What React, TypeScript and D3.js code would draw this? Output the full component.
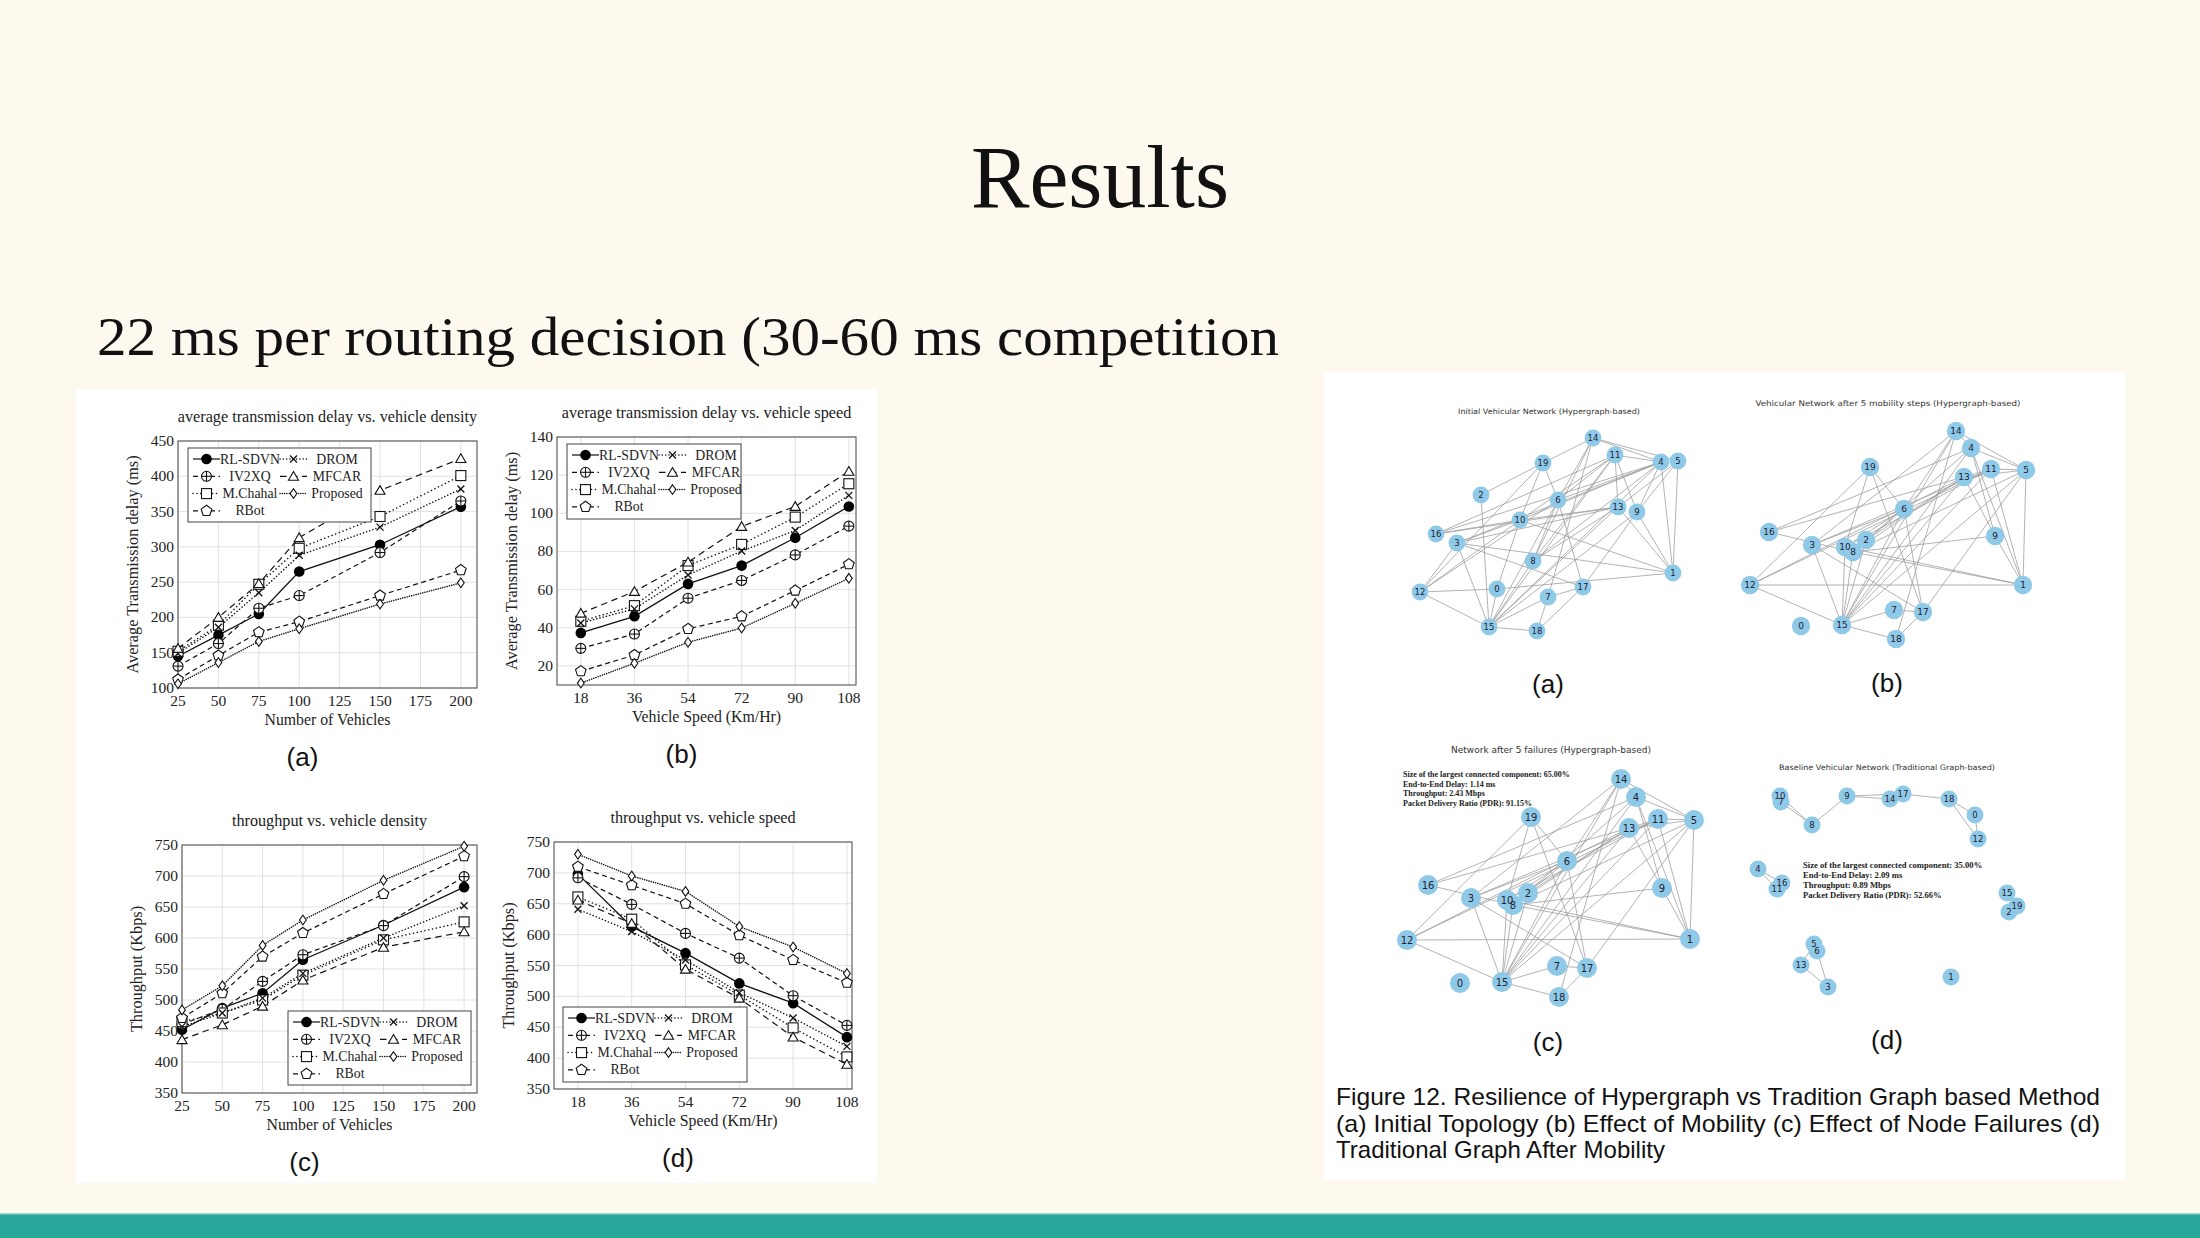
import React from "react";
import * as d3 from "d3";

// ---------- DATA ----------
const seriesNames = ["RL-SDVN", "IV2XQ", "M.Chahal", "RBot", "DROM", "MFCAR", "Proposed"];
const densityX = [25, 50, 75, 100, 150, 200];
const speedX = [18, 36, 54, 72, 90, 108];
const densityTicks = [25, 50, 75, 100, 125, 150, 175, 200];

const delayDensityRLSDVN = [145, 175, 205, 265, 303, 357];
const delayDensityIV2XQ = [131, 163, 213, 231, 292, 365];
const delayDensityMChahal = [152, 189, 247, 298, 343, 401];
const delayDensityRBot = [112, 146, 179, 194, 231, 267];
const delayDensityDROM = [149, 186, 235, 288, 328, 382];
const delayDensityMFCAR = [156, 200, 248, 313, 380, 425];
const delayDensityProposed = [106, 136, 166, 184, 219, 249];
const delayDensityTicks = [100, 150, 200, 250, 300, 350, 400, 450];

const delaySpeedRLSDVN = [37.3, 46, 63, 72.6, 87.2, 103.6];
const delaySpeedIV2XQ = [29.2, 36.7, 55.5, 64.8, 78.2, 93.3];
const delaySpeedMChahal = [43.4, 51.6, 72.6, 83.7, 98, 115.5];
const delaySpeedRBot = [17.2, 25.7, 39.4, 46, 59.5, 73.3];
const delaySpeedDROM = [42.5, 49.9, 67.7, 80.2, 91, 109.4];
const delaySpeedMFCAR = [47.6, 59, 74.4, 93.1, 103.6, 122];
const delaySpeedProposed = [11, 21.4, 32.4, 39.9, 52.8, 65.9];
const delaySpeedTicks = [20, 40, 60, 80, 100, 120, 140];

const thrDensityRLSDVN = [452, 487, 511, 565, 621, 682];
const thrDensityIV2XQ = [461, 485, 530, 573, 620, 699];
const thrDensityMChahal = [465, 479, 500, 540, 597, 626];
const thrDensityRBot = [471, 511, 570, 608, 671, 732];
const thrDensityDROM = [457, 479, 503, 543, 600, 652];
const thrDensityMFCAR = [436, 460, 490, 532, 585, 610];
const thrDensityProposed = [484, 523, 588, 629, 693, 748];
const thrTicks = [350, 400, 450, 500, 550, 600, 650, 700, 750];

const thrSpeedRLSDVN = [698, 613, 570, 521, 489, 434];
const thrSpeedIV2XQ = [692, 649, 602, 562, 501, 453];
const thrSpeedMChahal = [661, 625, 551, 502, 449, 402];
const thrSpeedRBot = [710, 680, 650, 599, 559, 522];
const thrSpeedDROM = [641, 605, 559, 506, 465, 419];
const thrSpeedMFCAR = [656, 618, 544, 497, 434, 390];
const thrSpeedProposed = [730, 695, 670, 613, 580, 537];

// network layouts (layout units) and edges
const netANodes: [number, number, number][] = [
  [14, 263, 48], [11, 285, 65], [4, 331, 72], [5, 348, 71], [19, 213, 73], [2, 151, 105],
  [6, 228, 110], [13, 288, 117], [9, 307, 122], [10, 190, 130], [16, 106, 144], [3, 127, 153],
  [8, 203, 171], [1, 343, 183], [12, 90, 202], [0, 167, 199], [17, 253, 197], [7, 218, 207],
  [15, 159, 237], [18, 207, 241],
];
const netAEdges: [number, number][] = [
  [14, 19], [14, 4], [14, 5], [14, 6], [14, 8], [14, 7], [11, 4], [11, 13], [11, 9], [11, 6],
  [11, 10], [11, 16], [11, 15], [11, 8], [4, 10], [4, 16], [4, 6], [4, 3], [4, 9], [4, 1],
  [4, 15], [4, 8], [5, 9], [5, 1], [5, 13], [19, 2], [19, 6], [19, 10], [19, 12], [2, 15],
  [6, 17], [6, 15], [6, 8], [6, 12], [16, 10], [16, 13], [13, 10], [13, 15], [13, 8], [13, 1],
  [13, 3], [9, 17], [9, 1], [9, 15], [10, 3], [10, 0], [10, 1], [10, 12], [3, 17], [3, 15],
  [3, 12], [3, 1], [8, 15], [12, 15], [12, 0], [0, 1], [0, 15], [17, 7], [17, 18], [7, 18],
  [7, 15], [15, 18],
];
const netBNodes: [number, number, number][] = [
  [14, 236, 41], [4, 251, 58], [19, 150, 77], [11, 271, 79], [5, 306, 80], [13, 244, 87],
  [6, 184, 119], [16, 49, 142], [9, 275, 146], [3, 92, 155], [2, 146, 150], [10, 125, 157],
  [8, 133, 162], [12, 30, 195], [1, 303, 195], [7, 174, 220], [17, 203, 222], [0, 81, 236],
  [15, 122, 235], [18, 176, 249],
];
const netCNodes: [number, number, number][] = [
  [14, 291, 39], [4, 306, 57], [19, 201, 77], [11, 328, 79], [5, 364, 80], [13, 299, 88],
  [6, 237, 121], [16, 98, 145], [9, 332, 148], [3, 141, 158], [2, 198, 153], [10, 177, 160],
  [8, 183, 165], [12, 77, 200], [1, 360, 199], [7, 227, 226], [17, 257, 228], [0, 130, 243],
  [15, 172, 242], [18, 229, 257],
];
const netBEdges: [number, number][] = [
  [14, 4], [14, 5], [14, 3], [14, 15], [14, 6], [14, 18], [4, 5], [4, 16], [4, 9], [4, 1],
  [4, 15], [4, 8], [19, 12], [19, 6], [19, 17], [19, 10], [11, 5], [11, 13], [11, 1], [11, 3],
  [11, 12], [11, 15], [11, 10], [5, 13], [5, 15], [5, 17], [5, 1], [5, 8], [13, 9], [13, 16],
  [13, 12], [13, 8], [13, 15], [13, 2], [6, 3], [6, 15], [6, 17], [6, 8], [6, 10], [16, 8],
  [9, 8], [9, 1], [3, 15], [3, 17], [2, 15], [10, 15], [8, 15], [8, 1], [10, 1], [12, 1],
  [12, 15], [7, 15], [7, 17], [17, 18], [15, 18],
];
const netDNodes: [number, number, number][] = [
  [10, 60, 56], [7, 61, 62], [8, 92, 85], [9, 127, 56], [14, 170, 59], [17, 183, 54],
  [18, 229, 59], [0, 255, 75], [12, 258, 99], [4, 38, 129], [16, 62, 143], [11, 57, 149],
  [15, 287, 153], [19, 297, 166], [2, 289, 172], [5, 94, 204], [6, 97, 211], [13, 81, 225],
  [3, 108, 247], [1, 231, 237],
];
const netDEdges: [number, number][] = [
  [10, 8], [7, 8], [8, 9], [9, 14], [9, 17], [14, 17], [17, 18], [18, 0], [18, 12], [0, 12],
  [4, 11], [4, 16], [11, 16], [5, 13], [6, 3], [13, 3], [5, 6], [15, 19], [2, 19],
];
const statsC = [
  "Size of the largest connected component: 65.00%",
  "End-to-End Delay: 1.14 ms",
  "Throughput: 2.43 Mbps",
  "Packet Delivery Ratio (PDR): 91.15%",
];
const statsD = [
  "Size of the largest connected component: 35.00%",
  "End-to-End Delay: 2.09 ms",
  "Throughput: 0.89 Mbps",
  "Packet Delivery Ratio (PDR): 52.66%",
];
const captionLines = [
  "Figure 12. Resilience of Hypergraph vs Tradition Graph based Method",
  "(a) Initial Topology (b) Effect of Mobility (c) Effect of Node Failures (d)",
  "Traditional Graph After Mobility",
];

// ---------- STYLES ----------
const seriesStyle = [
  { dash: "", marker: "fcircle", cap: "butt" },
  { dash: "5,3.5", marker: "oplus", cap: "butt" },
  { dash: "0.1,3.8", marker: "square", cap: "round" },
  { dash: "5,3.5", marker: "pentagon", cap: "butt" },
  { dash: "0.1,3.2", marker: "x", cap: "round" },
  { dash: "6.5,4.5", marker: "triangle", cap: "butt" },
  { dash: "0.1,2.2", marker: "diamond", cap: "round" },
];
const legendOrder = [0, 4, 1, 5, 2, 6, 3];
const SERIF = "'Liberation Serif', 'Times New Roman', serif";
const SANS = "'Liberation Sans', Arial, sans-serif";
const DJ = "'DejaVu Sans', sans-serif";

function poly(cx: number, cy: number, r: number, n: number, rot: number) {
  const pts: string[] = [];
  for (let i = 0; i < n; i++) {
    const a = rot + (i * 2 * Math.PI) / n;
    pts.push(`${cx + r * Math.cos(a)},${cy + r * Math.sin(a)}`);
  }
  return pts.join(" ");
}

function Marker({ type, x, y }: { type: string; x: number; y: number }) {
  const st = { stroke: "#111", strokeWidth: 1.1, fill: "#fff" };
  switch (type) {
    case "fcircle":
      return <circle cx={x} cy={y} r={5.3} fill="#000" />;
    case "oplus":
      return (
        <g {...st}>
          <circle cx={x} cy={y} r={5} />
          <line x1={x - 5} x2={x + 5} y1={y} y2={y} />
          <line x1={x} x2={x} y1={y - 5} y2={y + 5} />
        </g>
      );
    case "square":
      return <rect x={x - 5} y={y - 5} width={10} height={10} {...st} />;
    case "pentagon":
      return <polygon points={poly(x, y, 5.6, 5, -Math.PI / 2)} {...st} />;
    case "x":
      return (
        <g stroke="#111" strokeWidth={1.3}>
          <line x1={x - 3.5} x2={x + 3.5} y1={y - 3.5} y2={y + 3.5} />
          <line x1={x - 3.5} x2={x + 3.5} y1={y + 3.5} y2={y - 3.5} />
        </g>
      );
    case "triangle":
      return <polygon points={poly(x, y + 1, 5.8, 3, -Math.PI / 2)} {...st} />;
    case "diamond":
      return <polygon points={`${x},${y - 4.8} ${x + 3.4},${y} ${x},${y + 4.8} ${x - 3.4},${y}`} {...st} />;
  }
  return null;
}

type Frame = { x0: number; x1: number; y0: number; y1: number };

function LineChart(props: {
  frame: Frame;
  xDomain: [number, number];
  yDomain: [number, number];
  xTicks: number[];
  yTicks: number[];
  xValues: number[];
  data: number[][];
  title: string;
  xLabel: string;
  yLabel: string;
  legend: { x: number; y: number; w: number; h: number };
  sub: string;
}) {
  const { frame, xDomain, yDomain, xTicks, yTicks, xValues, data, title, xLabel, yLabel, legend, sub } = props;
  const x = d3.scaleLinear().domain(xDomain).range([frame.x0, frame.x1]);
  const y = d3.scaleLinear().domain(yDomain).range([frame.y1, frame.y0]);
  const line = d3
    .line<number>()
    .x((_, i) => x(xValues[i]))
    .y((d) => y(d));
  const cx = (frame.x0 + frame.x1) / 2;
  const cy = (frame.y0 + frame.y1) / 2;
  return (
    <g>
      <rect x={frame.x0} y={frame.y0} width={frame.x1 - frame.x0} height={frame.y1 - frame.y0} fill="#fff" />
      {xTicks.map((t) => (
        <line key={"gx" + t} x1={x(t)} x2={x(t)} y1={frame.y0} y2={frame.y1} stroke="#dedede" strokeWidth={0.9} />
      ))}
      {yTicks.map((t) => (
        <line key={"gy" + t} x1={frame.x0} x2={frame.x1} y1={y(t)} y2={y(t)} stroke="#dedede" strokeWidth={0.9} />
      ))}
      <rect
        x={frame.x0}
        y={frame.y0}
        width={frame.x1 - frame.x0}
        height={frame.y1 - frame.y0}
        fill="none"
        stroke="#555"
        strokeWidth={1.1}
      />
      {data.map((s, i) => (
        <path
          key={"l" + i}
          d={line(s) || ""}
          fill="none"
          stroke="#111"
          strokeWidth={i === 0 ? 1.3 : seriesStyle[i].cap === "round" ? 1.5 : 1.2}
          strokeDasharray={seriesStyle[i].dash}
          strokeLinecap={seriesStyle[i].cap as any}
        />
      ))}
      {data.map((s, i) =>
        s.map((v, j) => <Marker key={"m" + i + "-" + j} type={seriesStyle[i].marker} x={x(xValues[j])} y={y(v)} />)
      )}
      {xTicks.map((t) => (
        <text key={"tx" + t} x={x(t)} y={frame.y1 + 18} textAnchor="middle" fontFamily={SERIF} fontSize={15.5} fill="#222">
          {t}
        </text>
      ))}
      {yTicks.map((t) => (
        <text key={"ty" + t} x={frame.x0 - 4} y={y(t) + 5} textAnchor="end" fontFamily={SERIF} fontSize={15.5} fill="#222">
          {t}
        </text>
      ))}
      <text x={cx} y={frame.y0 - 19} textAnchor="middle" fontFamily={SERIF} fontSize={16.2} fill="#222">
        {title}
      </text>
      <text x={cx} y={frame.y1 + 37} textAnchor="middle" fontFamily={SERIF} fontSize={15.8} fill="#222">
        {xLabel}
      </text>
      <text
        transform={`translate(${frame.x0 - 40},${cy}) rotate(-90)`}
        textAnchor="middle"
        fontFamily={SERIF}
        fontSize={16.3}
        fill="#222"
      >
        {yLabel}
      </text>
      <rect x={legend.x} y={legend.y} width={legend.w} height={legend.h} fill="#fff" stroke="#444" strokeWidth={1} />
      {legendOrder.map((si, k) => {
        const row = Math.floor(k / 2);
        const col = k % 2;
        const ry = legend.y + 11 + row * 17.3;
        const sx = legend.x + 5 + col * 87;
        const lx = legend.x + 62 + col * 87;
        return (
          <g key={"lg" + si}>
            <line
              x1={sx}
              x2={sx + 27}
              y1={ry}
              y2={ry}
              stroke="#111"
              strokeWidth={seriesStyle[si].cap === "round" ? 1.5 : 1.2}
              strokeDasharray={seriesStyle[si].dash}
              strokeLinecap={seriesStyle[si].cap as any}
            />
            <Marker type={seriesStyle[si].marker} x={sx + 13.5} y={ry} />
            <text x={lx} y={ry + 4.5} textAnchor="middle" fontFamily={SERIF} fontSize={13.8} fill="#222">
              {seriesNames[si]}
            </text>
          </g>
        );
      })}
      <text x={cx - 25} y={frame.y1 + 78} textAnchor="middle" fontFamily={SANS} fontSize={26} fill="#111">
        {sub}
      </text>
    </g>
  );
}

function Network(props: {
  ox: number;
  oy: number;
  nodes: [number, number, number][];
  edges: [number, number][];
  r: number;
  fs: number;
  title: string;
  titleX: number;
  titleY: number;
  titleW: number;
  titleFs: number;
  stats?: string[];
  statsX?: number;
  statsY?: number;
  statsFs?: number;
  statsDy?: number;
  sub: string;
  subX: number;
  subY: number;
}) {
  const p = props;
  const sx = d3.scaleLinear().domain([0, 400]).range([p.ox, p.ox + 400]);
  const sy = d3.scaleLinear().domain([0, 320]).range([p.oy, p.oy + 320]);
  const pos = new Map<number, [number, number]>();
  p.nodes.forEach(([id, x, y]) => pos.set(id, [sx(x), sy(y)]));
  return (
    <g>
      <text
        x={p.titleX}
        y={p.titleY + p.titleFs * 0.35}
        textAnchor="middle"
        fontFamily={DJ}
        fontSize={p.titleFs}
        fill="#333"
        textLength={p.titleW}
        lengthAdjust="spacingAndGlyphs"
      >
        {p.title}
      </text>
      {p.edges.map(([a, b], i) => {
        const A = pos.get(a)!;
        const B = pos.get(b)!;
        return <line key={"e" + i} x1={A[0]} y1={A[1]} x2={B[0]} y2={B[1]} stroke="#9a9a9a" strokeWidth={0.75} />;
      })}
      {p.nodes.map(([id]) => {
        const P = pos.get(id)!;
        return <circle key={"n" + id} cx={P[0]} cy={P[1]} r={p.r} fill="#8fc9e8" />;
      })}
      {p.nodes.map(([id]) => {
        const P = pos.get(id)!;
        return (
          <text
            key={"t" + id}
            x={P[0]}
            y={P[1] + p.fs * 0.36}
            textAnchor="middle"
            fontFamily={DJ}
            fontSize={p.fs}
            fill="#223"
          >
            {id}
          </text>
        );
      })}
      {p.stats &&
        p.stats.map((s, i) => (
          <text
            key={"s" + i}
            x={p.statsX}
            y={(p.statsY || 0) + i * (p.statsDy || 10)}
            fontFamily={SERIF}
            fontWeight="bold"
            fontSize={p.statsFs}
            fill="#222"
          >
            {s}
          </text>
        ))}
      <text x={p.subX} y={p.subY + 9} textAnchor="middle" fontFamily={SANS} fontSize={26} fill="#111">
        {p.sub}
      </text>
    </g>
  );
}

export default function App() {
  const W = 2200;
  const H = 1238;
  return (
    <svg width={W} height={H} style={{ position: "absolute", left: 0, top: 0 }} viewBox={`0 0 ${W} ${H}`}>
      <rect x={0} y={0} width={W} height={H} fill="#fef9ee" />
      <rect x={0} y={1214} width={W} height={24} fill="#27a699" />
      <rect x={0} y={1213} width={W} height={1.5} fill="#9fd6cf" />
      <text x={1100} y={207} textAnchor="middle" fontFamily={SERIF} fontSize={89} fill="#111" textLength={258} lengthAdjust="spacingAndGlyphs">
        Results
      </text>
      <text x={97} y={355} fontFamily={SERIF} fontSize={55} fill="#111" textLength={1182} lengthAdjust="spacingAndGlyphs">
        22 ms per routing decision (30-60 ms competition
      </text>

      <rect x={76} y={389} width={801} height={794} fill="#fff" />
      <rect x={1324} y={372} width={801} height={808} fill="#fff" />

      <LineChart
        frame={{ x0: 178, x1: 477, y0: 441, y1: 688 }}
        xDomain={[25, 210]}
        yDomain={[100, 450]}
        xTicks={densityTicks}
        yTicks={delayDensityTicks}
        xValues={densityX}
        data={[
          delayDensityRLSDVN,
          delayDensityIV2XQ,
          delayDensityMChahal,
          delayDensityRBot,
          delayDensityDROM,
          delayDensityMFCAR,
          delayDensityProposed,
        ]}
        title="average transmission delay vs. vehicle density"
        xLabel="Number of Vehicles"
        yLabel="Average Transmission delay (ms)"
        legend={{ x: 188, y: 448, w: 183, h: 74 }}
        sub="(a)"
      />
      <LineChart
        frame={{ x0: 557, x1: 856, y0: 437, y1: 685 }}
        xDomain={[10, 110.4]}
        yDomain={[10, 140]}
        xTicks={speedX}
        yTicks={delaySpeedTicks}
        xValues={speedX}
        data={[
          delaySpeedRLSDVN,
          delaySpeedIV2XQ,
          delaySpeedMChahal,
          delaySpeedRBot,
          delaySpeedDROM,
          delaySpeedMFCAR,
          delaySpeedProposed,
        ]}
        title="average transmission delay vs. vehicle speed"
        xLabel="Vehicle Speed (Km/Hr)"
        yLabel="Average Transmission delay (ms)"
        legend={{ x: 567, y: 444, w: 174, h: 75 }}
        sub="(b)"
      />
      <LineChart
        frame={{ x0: 182, x1: 477, y0: 845, y1: 1093 }}
        xDomain={[25, 208]}
        yDomain={[350, 750]}
        xTicks={densityTicks}
        yTicks={thrTicks}
        xValues={densityX}
        data={[
          thrDensityRLSDVN,
          thrDensityIV2XQ,
          thrDensityMChahal,
          thrDensityRBot,
          thrDensityDROM,
          thrDensityMFCAR,
          thrDensityProposed,
        ]}
        title="throughput vs. vehicle density"
        xLabel="Number of Vehicles"
        yLabel="Throughput (Kbps)"
        legend={{ x: 288, y: 1011, w: 183, h: 74 }}
        sub="(c)"
      />
      <LineChart
        frame={{ x0: 554, x1: 852, y0: 842, y1: 1089 }}
        xDomain={[10, 109.7]}
        yDomain={[350, 750]}
        xTicks={speedX}
        yTicks={thrTicks}
        xValues={speedX}
        data={[
          thrSpeedRLSDVN,
          thrSpeedIV2XQ,
          thrSpeedMChahal,
          thrSpeedRBot,
          thrSpeedDROM,
          thrSpeedMFCAR,
          thrSpeedProposed,
        ]}
        title="throughput vs. vehicle speed"
        xLabel="Vehicle Speed (Km/Hr)"
        yLabel="Throughput (Kbps)"
        legend={{ x: 563, y: 1007, w: 184, h: 75 }}
        sub="(d)"
      />

      <Network
        ox={1330}
        oy={390}
        nodes={netANodes}
        edges={netAEdges}
        r={8.4}
        fs={8.5}
        title="Initial Vehicular Network (Hypergraph-based)"
        titleX={1549}
        titleY={411}
        titleW={182}
        titleFs={7.5}
        sub="(a)"
        subX={1548}
        subY={684}
      />
      <Network
        ox={1720}
        oy={390}
        nodes={netBNodes}
        edges={netBEdges}
        r={9.2}
        fs={9}
        title="Vehicular Network after 5 mobility steps (Hypergraph-based)"
        titleX={1888}
        titleY={403}
        titleW={265}
        titleFs={7.8}
        sub="(b)"
        subX={1887}
        subY={683}
      />
      <Network
        ox={1330}
        oy={740}
        nodes={netCNodes}
        edges={netBEdges}
        r={10}
        fs={10}
        title="Network after 5 failures (Hypergraph-based)"
        titleX={1551}
        titleY={750}
        titleW={200}
        titleFs={8.5}
        stats={statsC}
        statsX={1403}
        statsY={777}
        statsFs={8}
        statsDy={9.6}
        sub="(c)"
        subX={1548}
        subY={1042}
      />
      <Network
        ox={1720}
        oy={740}
        nodes={netDNodes}
        edges={netDEdges}
        r={8.5}
        fs={8.5}
        title="Baseline Vehicular Network (Traditional Graph-based)"
        titleX={1887}
        titleY={767}
        titleW={216}
        titleFs={7.5}
        stats={statsD}
        statsX={1803}
        statsY={868}
        statsFs={8.6}
        statsDy={9.9}
        sub="(d)"
        subX={1887}
        subY={1040}
      />

      {captionLines.map((l, i) => (
        <text
          key={"c" + i}
          x={1336}
          y={1105 + i * 26.5}
          fontFamily={SANS}
          fontSize={24}
          fill="#111"
          textLength={[764, 764, 329][i]}
          lengthAdjust="spacingAndGlyphs"
        >
          {l}
        </text>
      ))}
    </svg>
  );
}
